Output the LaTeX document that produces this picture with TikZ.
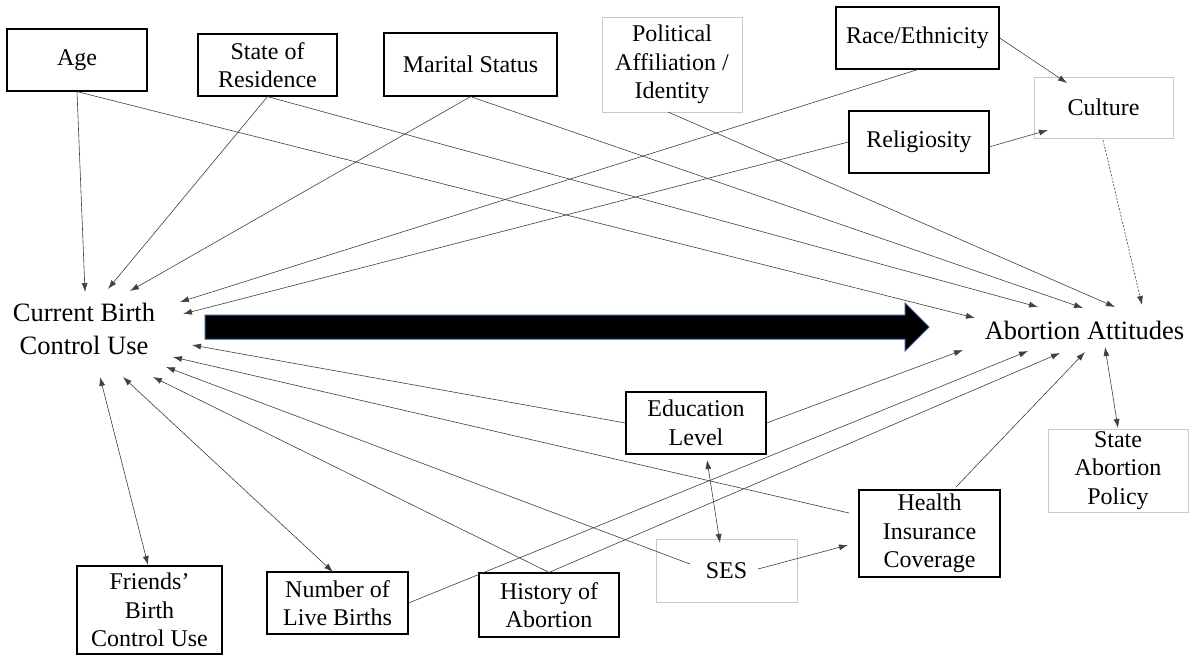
\documentclass[tikz,border=0pt]{standalone}
\usepackage{fontspec}
\setmainfont{Liberation Serif}
\usetikzlibrary{arrows.meta,calc}
\definecolor{lgray}{HTML}{C8C8C8}
\definecolor{arrblue}{HTML}{2F528F}
\begin{document}
\begin{tikzpicture}[x=1pt,y=-1pt,
  box/.style={draw=black,line width=1.2pt,inner sep=0pt,align=center,font=\fontsize{24}{28.5}\selectfont},
  lbox/.style={draw=lgray,line width=0.8pt,inner sep=0pt,align=center,font=\fontsize{24}{28.5}\selectfont},
  mainlbl/.style={inner sep=0pt,align=center,font=\fontsize{26.5}{33}\selectfont},
  conn/.style={draw=black!75,line width=0.6pt},
  tip/.style={conn,-{Latex[length=9pt,width=6pt]}},
  btip/.style={conn,{Latex[length=9pt,width=6pt]}-{Latex[length=9pt,width=6pt]}}]
\useasboundingbox (0,0) rectangle (1190,656);
\fill[white] (0,0) rectangle (1190,656);

% boxes
\node[box,minimum width=140,minimum height=62] (age) at (77,60) {Age};
\node[box,minimum width=139,minimum height=62] (state) at (267.5,65) {State of\\Residence};
\node[box,minimum width=173,minimum height=63] (mar) at (470.5,64.5) {Marital Status};
\node[lbox,minimum width=140,minimum height=95] (pol) at (672,64.5) {Political\\Affiliation /\\Identity};
\node[box,minimum width=163,minimum height=62] (race) at (917.5,38) {Race/Ethnicity};
\node[lbox,minimum width=139,minimum height=61] (cul) at (1103.5,107.5) {Culture};
\node[box,minimum width=140,minimum height=62] (rel) at (919,142) {Religiosity};
\node[box,minimum width=140,minimum height=62] (edu) at (696,423) {Education\\Level};
\node[lbox,minimum width=141,minimum height=63] (ses) at (726.5,570.5) {SES};
\node[box,minimum width=140,minimum height=64] (hist) at (549,605) {History of\\Abortion};
\node[box,minimum width=141,minimum height=62] (num) at (337.5,603) {Number of\\Live Births};
\node[box,minimum width=145,minimum height=88] (fr) at (149.5,610) {Friends’\\Birth\\Control Use};
\node[box,minimum width=141,minimum height=87] (hic) at (929.5,533.5) {Health\\Insurance\\Coverage};
\node[lbox,minimum width=140,minimum height=83] (sap) at (1118,470.5) {State\\Abortion\\Policy};
\node[mainlbl] (cbcu) at (84,329) {Current Birth\\Control Use};
\node[mainlbl] (aa) at (1084.5,330) {Abortion Attitudes};

% big arrow
\draw[fill=black,draw=arrblue,line width=1pt] (205,315) -- (905,315) -- (905,303) -- (929,327) -- (905,351) -- (905,339) -- (205,339) -- cycle;

% named end points
\coordinate (cAge) at (85,292);
\coordinate (cState) at (108,289);
\coordinate (cMar) at (130,291);
\coordinate (cRace) at (180,302);
\coordinate (cRel) at (183,314);
\coordinate (cEdu) at (192,345);
\coordinate (cHealth) at (173,357);
\coordinate (cSES) at (166,367);
\coordinate (cHist) at (153,377);
\coordinate (cNum) at (123,377);
\coordinate (cFr) at (100,377);
\coordinate (aAge) at (975,318);
\coordinate (aState) at (1038,307);
\coordinate (aMar) at (1083,308);
\coordinate (aPol) at (1115,307);
\coordinate (aCul) at (1142,305);
\coordinate (aEdu) at (963,350);
\coordinate (aNum) at (1028,351);
\coordinate (aHist) at (1060,353);
\coordinate (aHealth) at (1085,352);
\coordinate (aSAP) at (1105,347);
\coordinate (hW) at (849,513);
\coordinate (hN) at (956,487);
\coordinate (sesL) at (690,564);
\coordinate (sesR) at (758,569);
\coordinate (hArr) at (848,545);
\coordinate (eduS) at (707,460);
\coordinate (sesN) at (720,543);
\coordinate (sapN) at (1118,428);
\coordinate (relE) at (989,147);
\coordinate (culW) at (1048,130);
\coordinate (culN) at (1067,83);
\coordinate (culS) at (1103,140);
\coordinate (numN) at (333,572);
\coordinate (frN) at (148,565);
\coordinate (polS) at (668,112);

% connectors to Current Birth Control Use
\draw[tip] (age.south) -- (cAge);
\draw[tip] (state.south) -- (cState);
\draw[tip] (mar.south) -- (cMar);
\draw[tip] (race.south) -- (cRace);
\draw[tip] (rel.west) -- (cRel);
\draw[tip] (edu.west) -- (cEdu);
\draw[tip] (hW) -- (cHealth);
\draw[tip] (sesL) -- (cSES);
\draw[tip] (hist.north) -- (cHist);
\draw[btip] (numN) -- (cNum);
\draw[btip] (frN) -- (cFr);

% connectors to Abortion Attitudes
\draw[tip] (age.south) -- (aAge);
\draw[tip] (state.south) -- (aState);
\draw[tip] (mar.south) -- (aMar);
\draw[tip] (polS) -- (aPol);
\draw[tip,dashed,dash pattern=on 2pt off 1.5pt] (culS) -- (aCul);
\draw[tip] (edu.east) -- (aEdu);
\draw[tip] (num.east) -- (aNum);
\draw[tip] (hist.north) -- (aHist);
\draw[tip] (hN) -- (aHealth);
\draw[btip] (aSAP) -- (sapN);

% others
\draw[tip] (race.east) -- (culN);
\draw[tip] (relE) -- (culW);
\draw[tip] (sesR) -- (hArr);
\draw[btip] (eduS) -- (sesN);
\end{tikzpicture}
\end{document}
